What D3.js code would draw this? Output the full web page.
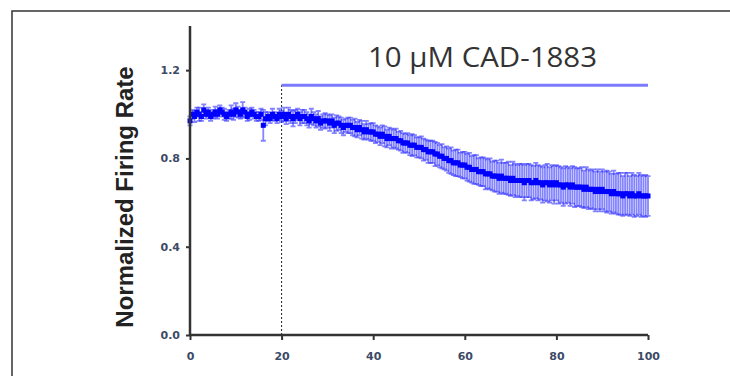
<!DOCTYPE html>
<html>
<head>
<meta charset="utf-8">
<script src="https://cdn.jsdelivr.net/npm/d3@7"></script>
<style>
  body { margin: 0; background: #fff; }
  svg { display: block; }
</style>
</head>
<body>
<div id="chart"></div>
<script>
// time in minutes, one sample every 0.5 min
const times = d3.range(0, 100.5, 0.5)

const meanRate = [
  0.97, 1.00, 0.99, 1.01, 1.00, 0.99, 1.02, 1.00, 1.01, 0.99,
  1.00, 1.01, 1.00, 1.02, 1.01, 1.00, 0.99, 1.00, 1.01, 1.00,
  1.02, 1.01, 1.00, 1.02, 1.01, 0.99, 1.00, 1.01, 1.00, 0.99,
  0.99, 1.00, 0.95, 0.98, 0.99, 0.98, 1.00, 0.99, 0.98, 1.00,
  0.99, 1.00, 0.98, 1.00, 0.99, 0.98, 0.99, 1.00, 0.98, 0.99,
  0.99, 0.98, 0.97, 0.99, 0.98, 0.97, 0.98, 0.96, 0.97, 0.97,
  0.97, 0.96, 0.97, 0.95, 0.96, 0.96, 0.95, 0.94, 0.95, 0.95,
  0.95, 0.94, 0.94, 0.93, 0.94, 0.93, 0.92, 0.93, 0.92, 0.92,
  0.92, 0.91, 0.91, 0.90, 0.91, 0.90, 0.89, 0.90, 0.89, 0.89,
  0.89, 0.88, 0.88, 0.87, 0.87, 0.87, 0.86, 0.86, 0.86, 0.85,
  0.85, 0.85, 0.84, 0.84, 0.83, 0.83, 0.83, 0.82, 0.82, 0.81,
  0.81, 0.80, 0.80, 0.79, 0.79, 0.78, 0.78, 0.78, 0.77, 0.77,
  0.77, 0.76, 0.76, 0.75, 0.75, 0.75, 0.74, 0.74, 0.74, 0.73,
  0.73, 0.73, 0.72, 0.72, 0.72, 0.71, 0.72, 0.71, 0.71, 0.71,
  0.70, 0.71, 0.70, 0.70, 0.70, 0.70, 0.69, 0.70, 0.70, 0.69,
  0.69, 0.70, 0.69, 0.69, 0.68, 0.69, 0.69, 0.68, 0.69, 0.68,
  0.69, 0.68, 0.68, 0.67, 0.68, 0.68, 0.67, 0.68, 0.67, 0.67,
  0.67, 0.67, 0.66, 0.67, 0.66, 0.66, 0.66, 0.65, 0.66, 0.65,
  0.66, 0.65, 0.65, 0.65, 0.64, 0.65, 0.64, 0.64, 0.64, 0.63,
  0.64, 0.64, 0.63, 0.64, 0.63, 0.63, 0.64, 0.63, 0.63, 0.63,
  0.63
]

const semRate = [
  0.020, 0.020, 0.025, 0.020, 0.030, 0.020, 0.025, 0.020, 0.020, 0.020,
  0.020, 0.025, 0.020, 0.020, 0.020, 0.025, 0.020, 0.020, 0.030, 0.025,
  0.030, 0.025, 0.020, 0.035, 0.020, 0.020, 0.025, 0.020, 0.020, 0.020,
  0.020, 0.025, 0.070, 0.030, 0.020, 0.020, 0.025, 0.020, 0.020, 0.025,
  0.025, 0.030, 0.025, 0.030, 0.030, 0.035, 0.030, 0.025, 0.030, 0.030,
  0.030, 0.030, 0.030, 0.035, 0.030, 0.030, 0.035, 0.030, 0.030, 0.035,
  0.030, 0.035, 0.030, 0.035, 0.035, 0.030, 0.035, 0.035, 0.030, 0.035,
  0.035, 0.035, 0.040, 0.035, 0.035, 0.040, 0.035, 0.040, 0.035, 0.040,
  0.040, 0.040, 0.035, 0.040, 0.040, 0.045, 0.040, 0.040, 0.045, 0.040,
  0.045, 0.040, 0.045, 0.045, 0.040, 0.045, 0.045, 0.050, 0.045, 0.045,
  0.045, 0.050, 0.050, 0.045, 0.050, 0.050, 0.050, 0.055, 0.050, 0.050,
  0.055, 0.050, 0.055, 0.055, 0.060, 0.055, 0.060, 0.060, 0.055, 0.060,
  0.060, 0.060, 0.065, 0.060, 0.065, 0.065, 0.060, 0.065, 0.065, 0.070,
  0.065, 0.070, 0.065, 0.070, 0.070, 0.070, 0.075, 0.070, 0.070, 0.075,
  0.070, 0.075, 0.075, 0.070, 0.075, 0.075, 0.080, 0.075, 0.075, 0.080,
  0.075, 0.080, 0.080, 0.075, 0.080, 0.080, 0.085, 0.080, 0.080, 0.085,
  0.080, 0.085, 0.080, 0.085, 0.085, 0.080, 0.085, 0.085, 0.090, 0.085,
  0.085, 0.090, 0.085, 0.090, 0.090, 0.085, 0.090, 0.090, 0.090, 0.090,
  0.090, 0.090, 0.095, 0.090, 0.090, 0.095, 0.090, 0.095, 0.095, 0.090,
  0.095, 0.095, 0.090, 0.095, 0.095, 0.090, 0.095, 0.095, 0.090, 0.095,
  0.090
]

const xTickValues = [0, 20, 40, 60, 80, 100]
const yTickValues = [0.0, 0.4, 0.8, 1.2]
const drugLabel = '10 \u00b5M CAD-1883'
const drugStart = 20
const drugEnd = 100
const drugLevel = 1.132
const yLabel = 'Normalized Firing Rate'

const width = 730
const height = 376
const margin = { top: 26, right: 82, bottom: 41, left: 190 }
const chartWidth = width - margin.left - margin.right
const chartHeight = height - margin.top - margin.bottom

const data = times.map((t, i) => ({ time: t, value: meanRate[i], sem: semRate[i] }))

const svg = d3.select('#chart')
  .append('svg')
  .attr('width', width)
  .attr('height', height)

// soft edge like the scanned figure
svg.append('defs')
  .append('filter')
  .attr('id', 'soft')
  .append('feGaussianBlur')
  .attr('stdDeviation', 0.6)

// frame (open at the bottom and right, as in the cropped figure)
svg.append('path')
  .attr('d', `M12,${height} L12,11 L${width},11`)
  .attr('fill', 'none')
  .attr('stroke', '#333')
  .attr('stroke-width', 1.5)

const xScale = d3.scaleLinear().domain([0, 100]).range([0, chartWidth])
const yScale = d3.scaleLinear().domain([0, 1.4]).range([chartHeight, 0])

const container = svg.append('g')
  .attr('transform', `translate(${margin.left},${margin.top})`)

// drug application marker
container.append('line')
  .attr('x1', xScale(drugStart))
  .attr('x2', xScale(drugStart))
  .attr('y1', yScale(0))
  .attr('y2', yScale(drugLevel))
  .attr('stroke', '#222')
  .attr('stroke-width', 1)
  .attr('stroke-dasharray', '2,2')

container.append('line')
  .attr('x1', xScale(drugStart))
  .attr('x2', xScale(drugEnd))
  .attr('y1', yScale(drugLevel))
  .attr('y2', yScale(drugLevel))
  .attr('stroke', '#7b7bff')
  .attr('stroke-width', 3)

container.append('text')
  .attr('x', 368 - margin.left)
  .attr('y', 67 - margin.top)
  .attr('textLength', 229)
  .attr('lengthAdjust', 'spacingAndGlyphs')
  .attr('font-family', 'Open Sans, sans-serif')
  .attr('font-size', 27)
  .attr('fill', '#333')
  .text(drugLabel)

const marks = container.append('g').attr('filter', 'url(#soft)')

// error bars
const errors = marks.append('g').attr('class', 'error-bars')
  .attr('stroke', '#3030ff')
  .attr('stroke-opacity', 0.6)
  .attr('stroke-width', 1.8)

errors.selectAll('path')
  .data(data)
  .enter()
  .append('path')
  .attr('fill', 'none')
  .attr('d', (d) => {
    const x = xScale(d.time)
    const y0 = yScale(d.value - d.sem)
    const y1 = yScale(d.value + d.sem)
    return `M${x},${y0}V${y1}M${x - 2.5},${y0}H${x + 2.5}M${x - 2.5},${y1}H${x + 2.5}`
  })

// mean points
marks.append('g').attr('class', 'points')
  .selectAll('rect')
  .data(data)
  .enter()
  .append('rect')
  .attr('x', (d) => xScale(d.time) - 2.5)
  .attr('y', (d) => yScale(d.value) - 2.5)
  .attr('width', 5)
  .attr('height', 5)
  .attr('fill', '#0000ff')

// axes
const xAxis = d3.axisBottom(xScale)
  .tickValues(xTickValues)
  .tickSize(5)
  .tickPadding(12)
  .tickFormat(d3.format('d'))

const yAxis = d3.axisLeft(yScale)
  .tickValues(yTickValues)
  .tickSize(4)
  .tickPadding(6)
  .tickFormat(d3.format('.1f'))

const gx = container.append('g')
  .attr('transform', `translate(0,${chartHeight})`)
  .call(xAxis)

const gy = container.append('g')
  .call(yAxis)

for (const g of [gx, gy]) {
  g.select('.domain').attr('stroke', '#333').attr('stroke-width', 2.5)
  g.selectAll('.tick line').attr('stroke', '#333').attr('stroke-width', 2)
  g.selectAll('.tick text')
    .attr('fill', '#3d4a66')
    .attr('font-family', 'DejaVu Sans, sans-serif')
    .attr('font-weight', 'bold')
    .attr('font-size', 11)
}
gx.select('.domain').attr('d', `M0,0H${chartWidth}`)
gy.select('.domain').attr('d', `M0,0V${chartHeight}`)

svg.append('text')
  .attr('transform', `translate(125,197) rotate(-90)`)
  .attr('text-anchor', 'middle')
  .attr('dy', '0.35em')
  .attr('font-family', 'Liberation Sans, Arial, sans-serif')
  .attr('font-weight', 'bold')
  .attr('font-size', 24)
  .attr('fill', '#222')
  .text(yLabel)
</script>
</body>
</html>
